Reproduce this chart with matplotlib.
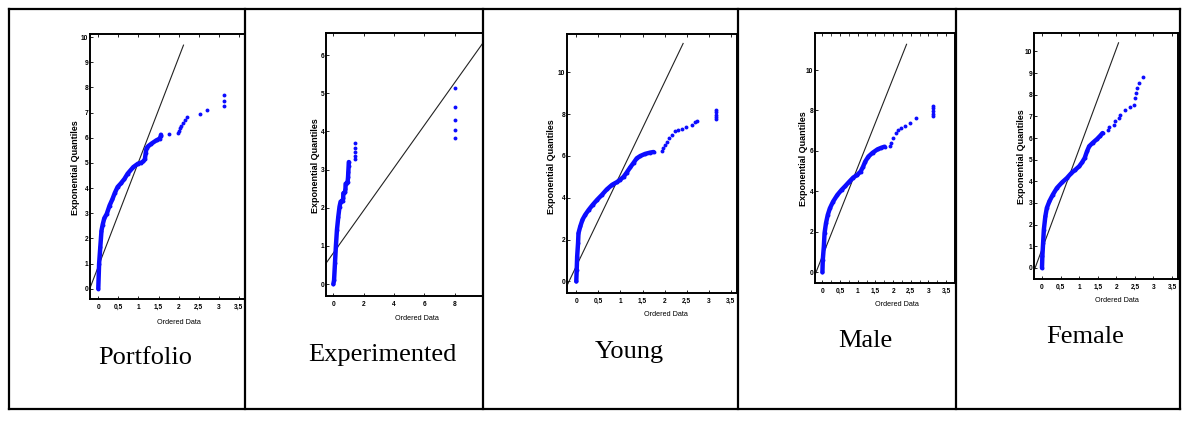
import matplotlib
matplotlib.use("Agg")
import matplotlib.pyplot as plt
from matplotlib.lines import Line2D
import numpy as np

W, H = 1196, 423

# ---------------- data ----------------
captions = ["Portfolio", "Experimented", "Young", "Male", "Female"]

portfolio_body_x = [0.00, 0.02, 0.05, 0.08, 0.11, 0.15, 0.21, 0.28, 0.35, 0.41, 0.48, 0.56, 0.65, 0.73, 0.87, 0.99, 1.06, 1.12, 1.16, 1.18, 1.20, 1.24, 1.32, 1.45, 1.53, 1.55, 1.56]
portfolio_body_y = [0.00, 0.98, 1.65, 2.31, 2.55, 2.80, 2.97, 3.30, 3.55, 3.80, 4.04, 4.18, 4.36, 4.57, 4.83, 4.97, 5.00, 5.06, 5.15, 5.40, 5.58, 5.66, 5.76, 5.90, 5.96, 6.05, 6.12]
portfolio_tail_x = [1.77, 1.98, 2.01, 2.04, 2.07, 2.10, 2.15, 2.21, 2.52, 2.70, 3.13, 3.13, 3.13]
portfolio_tail_y = [6.13, 6.17, 6.27, 6.38, 6.48, 6.58, 6.70, 6.82, 6.96, 7.09, 7.25, 7.46, 7.70]

experimented_body_x = [0.00, 0.05, 0.11, 0.17, 0.24, 0.33, 0.41, 0.48, 0.55, 0.62, 0.65, 0.66, 0.72, 0.77, 0.80, 0.81, 0.88, 0.94, 0.97, 0.99, 1.01, 1.02]
experimented_body_y = [0.00, 0.10, 0.55, 0.99, 1.42, 1.77, 2.03, 2.16, 2.18, 2.19, 2.25, 2.38, 2.40, 2.41, 2.50, 2.63, 2.65, 2.67, 2.80, 2.95, 3.10, 3.20]
experimented_tail_x = [1.45, 1.45, 1.45, 1.45, 1.45, 8.00, 8.00, 8.00, 8.00, 8.00]
experimented_tail_y = [3.27, 3.37, 3.47, 3.58, 3.69, 3.84, 4.04, 4.30, 4.63, 5.15]

young_body_x = [0.00, 0.01, 0.02, 0.04, 0.05, 0.09, 0.14, 0.20, 0.28, 0.37, 0.47, 0.58, 0.69, 0.81, 0.92, 0.99, 1.07, 1.14, 1.22, 1.30, 1.37, 1.45, 1.56, 1.67, 1.75]
young_body_y = [0.00, 0.56, 1.19, 1.83, 2.31, 2.63, 2.95, 3.18, 3.42, 3.66, 3.90, 4.14, 4.40, 4.62, 4.75, 4.86, 5.00, 5.20, 5.45, 5.68, 5.89, 6.00, 6.10, 6.16, 6.19]
young_tail_x = [1.94, 1.97, 2.01, 2.05, 2.10, 2.16, 2.24, 2.31, 2.39, 2.48, 2.61, 2.70, 2.73, 3.16, 3.16, 3.16, 3.16, 3.16]
young_tail_y = [6.26, 6.37, 6.53, 6.69, 6.85, 7.00, 7.17, 7.25, 7.29, 7.40, 7.48, 7.60, 7.69, 7.75, 7.87, 7.98, 8.09, 8.20]

male_body_x = [0.00, 0.01, 0.04, 0.06, 0.10, 0.15, 0.21, 0.30, 0.42, 0.54, 0.65, 0.76, 0.87, 0.98, 1.08, 1.15, 1.21, 1.30, 1.42, 1.56, 1.67, 1.76]
male_body_y = [0.00, 0.61, 1.27, 1.93, 2.42, 2.83, 3.16, 3.49, 3.82, 4.07, 4.27, 4.48, 4.68, 4.81, 4.98, 5.22, 5.47, 5.72, 5.91, 6.08, 6.16, 6.21]
male_tail_x = [1.92, 1.95, 2.01, 2.09, 2.15, 2.21, 2.33, 2.47, 2.65, 3.12, 3.12, 3.12, 3.12, 3.12]
male_tail_y = [6.24, 6.38, 6.62, 6.87, 7.03, 7.12, 7.23, 7.40, 7.61, 7.72, 7.85, 7.98, 8.10, 8.22]

female_body_x = [0.00, 0.01, 0.03, 0.05, 0.09, 0.13, 0.20, 0.29, 0.40, 0.54, 0.67, 0.79, 0.90, 1.00, 1.08, 1.15, 1.21, 1.27, 1.36, 1.48, 1.57, 1.63]
female_body_y = [0.00, 0.54, 1.15, 1.77, 2.38, 2.77, 3.08, 3.38, 3.69, 3.95, 4.15, 4.38, 4.54, 4.69, 4.88, 5.08, 5.38, 5.62, 5.77, 5.95, 6.11, 6.23]
female_tail_x = [1.78, 1.81, 1.93, 1.97, 2.08, 2.11, 2.23, 2.36, 2.47, 2.50, 2.53, 2.56, 2.62, 2.71]
female_tail_y = [6.38, 6.50, 6.62, 6.77, 6.92, 7.08, 7.31, 7.43, 7.54, 7.85, 8.08, 8.31, 8.54, 8.80]

# reference lines: intercept, slope, x end
line_intercept = [0.88, 0.815, 0.73, 0.80, 0.86]
line_slope = [4.15, 0.559, 4.40, 4.40, 4.63]
line_x_end = [2.12, 11.0, 2.42, 2.38, 2.06]

x_ticks_half = [0, 0.5, 1, 1.5, 2, 2.5, 3, 3.5]
x_labels_half = ["0", "0,5", "1", "1,5", "2", "2,5", "3", "3,5"]
x_ticks_exp = [0, 2, 4, 6, 8]
y_ticks_unit10 = list(range(0, 11))
y_ticks_unit6 = list(range(0, 7))
y_ticks_even10 = [0, 2, 4, 6, 8, 10]

bodies = [(portfolio_body_x, portfolio_body_y), (experimented_body_x, experimented_body_y),
          (young_body_x, young_body_y), (male_body_x, male_body_y), (female_body_x, female_body_y)]
tails = [(portfolio_tail_x, portfolio_tail_y), (experimented_tail_x, experimented_tail_y),
         (young_tail_x, young_tail_y), (male_tail_x, male_tail_y), (female_tail_x, female_tail_y)]

# ---------------- layout (pixels) ----------------
axes_px = [(90, 34, 245, 299), (326, 33, 483, 296), (567, 34, 737, 293),
           (815, 33, 955, 283), (1034, 33, 1178, 279)]
xlims = [(-0.206, 3.65), (-0.48, 9.85), (-0.21, 3.64), (-0.21, 3.61), (-0.215, 3.66)]
ylims = [(-0.41, 10.12), (-0.31, 6.58), (-0.55, 11.83), (-0.53, 11.83), (-0.51, 10.85)]
xticks = [x_ticks_half, x_ticks_exp, x_ticks_half, x_ticks_half, x_ticks_half]
xtlabels = [x_labels_half, [str(v) for v in x_ticks_exp], x_labels_half, x_labels_half, x_labels_half]
yticks = [y_ticks_unit10, y_ticks_unit6, y_ticks_even10, y_ticks_even10, y_ticks_unit10]
xlabel_px = [(179, 322), (417, 318), (666, 314), (897, 304), (1117, 300)]
ylabel_px = [(76, 168), (315, 166), (551, 167), (803, 159), (1021, 157)]
caption_px = [(145, 364), (382, 361.5), (629, 357.5), (865, 346.5), (1085, 342.5)]
cell_x = [9, 245, 483, 738, 956, 1180]
table_top, table_bottom = 9, 409

BLUE = "#0c0cff"

fig = plt.figure(figsize=(W / 100, H / 100), dpi=100)
fig.patch.set_facecolor("white")


def fx(px):
    return px / W


def fy(py):
    return 1 - py / H


narrow = ["Liberation Sans Narrow", "Liberation Sans", "DejaVu Sans"]

for i in range(5):
    l, t, r, b = axes_px[i]
    ax = fig.add_axes([fx(l), fy(b), (r - l) / W, (b - t) / H])
    ax.set_xlim(*xlims[i])
    ax.set_ylim(*ylims[i])
    for s in ax.spines.values():
        s.set_linewidth(1.4)
        s.set_color("black")
    ax.set_xticks(xticks[i])
    ax.set_xticklabels(xtlabels[i], family=narrow, fontsize=4.8, fontweight="bold")
    ax.set_yticks(yticks[i])
    ax.set_yticklabels([str(v) for v in yticks[i]], family=narrow, fontsize=4.8,
                       fontweight="bold")
    if i == 3:
        ax.set_xticks(np.arange(0, 3.76, 0.25), minor=True)
        ax.tick_params(axis="x", which="minor", direction="in", length=2, width=0.5,
                       top=True, bottom=True)
    ax.tick_params(axis="x", which="major", direction="in", length=2.5, width=0.6,
                   top=True, bottom=True, pad=3.6)
    ax.tick_params(axis="y", which="major", direction="in", length=2.5, width=0.6,
                   left=True, right=False, pad=1.2)

    # reference line
    lx = np.array([xlims[i][0] - 1, line_x_end[i]])
    ax.plot(lx, line_intercept[i] + line_slope[i] * lx, color="#222222", lw=0.8, zorder=2)

    bx, by = bodies[i]
    ax.plot(bx, by, "-", color=BLUE, lw=3.2, solid_capstyle="round",
            solid_joinstyle="round", zorder=3)
    ax.plot(bx, by, "o", color=BLUE, ms=2.8, mew=0, zorder=3)
    tx, ty = tails[i]
    ax.plot(tx, ty, "o", color=BLUE, ms=2.8, mew=0, zorder=3, clip_on=False)

    ax.set_xlabel("Ordered Data", family=narrow, fontsize=5.2)
    ax.xaxis.set_label_coords((xlabel_px[i][0] - l) / (r - l), (b - xlabel_px[i][1]) / (b - t))
    ax.xaxis.label.set_va("center")
    ax.set_ylabel("Exponential Quantiles", family=["Liberation Sans", "DejaVu Sans"],
                  fontsize=6.5, fontweight="bold")
    ax.yaxis.set_label_coords((ylabel_px[i][0] - l) / (r - l), (b - ylabel_px[i][1]) / (b - t))
    ax.yaxis.label.set_va("center")

    fig.text(fx(caption_px[i][0]), fy(caption_px[i][1]), captions[i],
             family=["Liberation Serif", "DejaVu Serif"], fontsize=19,
             ha="center", va="baseline", color="black")

# table borders
lw_tab = 1.6
for xv in cell_x:
    fig.add_artist(Line2D([fx(xv), fx(xv)], [fy(table_top), fy(table_bottom)],
                          color="black", lw=lw_tab, transform=fig.transFigure))
for yv in (table_top, table_bottom):
    fig.add_artist(Line2D([fx(cell_x[0]), fx(cell_x[-1])], [fy(yv), fy(yv)],
                          color="black", lw=lw_tab, transform=fig.transFigure))

fig.savefig("out.png", dpi=100, facecolor="white")
